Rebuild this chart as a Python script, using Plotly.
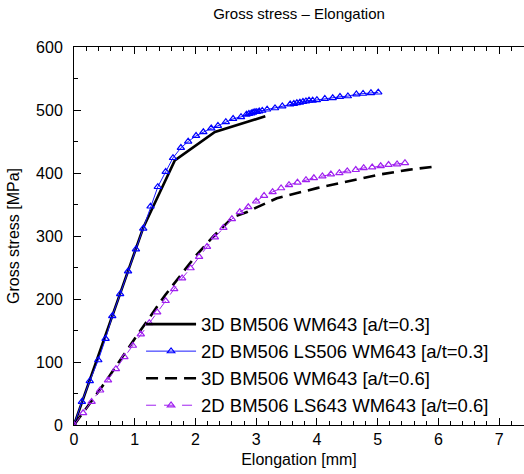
import plotly.graph_objects as go

# ---- data ----
x_3d_03 = [0, 1.14, 1.66, 2.32, 3.15]
y_3d_03 = [0, 313, 420, 465, 490]

x_2d_03 = [0, 0.13, 0.26, 0.40, 0.52, 0.63, 0.76, 0.89, 1.02, 1.14, 1.26, 1.38,
           1.51, 1.63, 1.76, 1.88, 2.01, 2.13, 2.26, 2.37, 2.50, 2.62, 2.75,
           2.84, 2.88, 2.92, 2.95, 2.98, 3.01, 3.05, 3.10, 3.18, 3.31, 3.43,
           3.56, 3.62, 3.67, 3.72, 3.77, 3.82, 3.87, 3.93, 4.00, 4.13, 4.26,
           4.38, 4.51, 4.65, 4.76, 4.89, 5.01]
y_2d_03 = [0, 37, 70, 103, 137, 173, 208, 244, 279, 312, 347, 378,
           402, 424, 440, 450, 459, 465, 471, 475, 481, 486, 489,
           493, 494, 495, 496, 497, 497, 498, 499, 501, 503, 506,
           509, 510, 511, 512, 513, 514, 515, 515, 516, 518, 519,
           521, 522, 525, 526, 527, 528]

x_3d_06 = [0, 0.5, 1.0, 1.5, 2.0, 2.3, 2.62, 2.85, 3.0, 3.34, 4.0, 4.5, 5.0, 5.5, 6.0]
y_3d_06 = [0, 66, 137, 206, 268, 300, 330, 338, 345, 360, 376, 386, 397, 405, 411]

x_2d_06 = [0, 0.15, 0.29, 0.43, 0.56, 0.69, 0.83, 0.97, 1.10, 1.24, 1.37, 1.51,
           1.65, 1.78, 1.92, 2.06, 2.19, 2.32, 2.46, 2.60, 2.73, 2.87, 3.00,
           3.13, 3.27, 3.41, 3.54, 3.68, 3.82, 3.95, 4.09, 4.23, 4.37, 4.50,
           4.64, 4.77, 4.91, 5.05, 5.18, 5.32, 5.45]
y_2d_06 = [0, 19, 37, 55, 71, 89, 108, 126, 144, 162, 179, 197,
           216, 233, 249, 267, 283, 298, 313, 327, 338, 346, 355,
           364, 370, 376, 381, 385, 389, 392, 395, 398, 400, 403,
           405, 408, 409, 411, 413, 414, 416]

names = ["3D BM506 WM643 [a/t=0.3]",
         "2D BM506 LS506 WM643 [a/t=0.3]",
         "3D BM506 WM643 [a/t=0.6]",
         "2D BM506 LS643 WM643 [a/t=0.6]"]

title_text = "Gross stress \u2013 Elongation"
x_title = "Elongation [mm]"
y_title = "Gross stress [MPa]"

FONT = "Liberation Sans, Arial, sans-serif"
PURPLE = "#a020f0"

fig = go.Figure()
fig.add_trace(go.Scatter(x=x_3d_03, y=y_3d_03, name=names[0], mode="lines",
                         line=dict(color="black", width=2.6)))
fig.add_trace(go.Scatter(x=x_2d_03, y=y_2d_03, name=names[1], mode="lines+markers",
                         line=dict(color="#1a1aff", width=1),
                         marker=dict(symbol="triangle-up-open", size=6.5,
                                     color="#0000ff", line=dict(width=1.2, color="#0000ff"))))
fig.add_trace(go.Scatter(x=x_3d_06, y=y_3d_06, name=names[2], mode="lines",
                         line=dict(color="black", width=2.6, dash="12px,7px")))
fig.add_trace(go.Scatter(x=x_2d_06, y=y_2d_06, name=names[3], mode="lines+markers",
                         line=dict(color=PURPLE, width=1, dash="10px,8px"),
                         marker=dict(symbol="triangle-up-open", size=6.5,
                                     color=PURPLE, line=dict(width=1.2, color=PURPLE))))

fig.update_layout(
    width=524, height=474,
    margin=dict(l=74, r=0, t=47, b=49),
    paper_bgcolor="white", plot_bgcolor="white",
    font=dict(family=FONT, size=16, color="black"),
    title=dict(text=title_text, x=0.5, xref="paper", y=0.972, yanchor="middle",
               font=dict(size=15, color="black")),
    showlegend=True,
    legend=dict(x=0.149, y=0.316, xanchor="left", yanchor="top",
                bgcolor="rgba(0,0,0,0)", borderwidth=0,
                font=dict(size=18.5, color="black"), itemwidth=50,
                tracegroupgap=0),
)
fig.update_xaxes(range=[0, 7.41], showgrid=False, zeroline=False,
                 showline=True, linecolor="black", linewidth=1, mirror="ticks",
                 ticks="inside", ticklen=7, tickcolor="black", tickwidth=1,
                 dtick=1, tick0=0,
                 minor=dict(ticks="inside", ticklen=4, dtick=0.2, tickcolor="black", showgrid=False),
                 tickfont=dict(size=16),
                 title=dict(text=x_title, font=dict(size=16), standoff=6))
fig.update_yaxes(range=[0, 600], showgrid=False, zeroline=False,
                 showline=True, linecolor="black", linewidth=1, mirror=False,
                 ticks="inside", ticklen=7, tickcolor="black", tickwidth=1,
                 dtick=100, tick0=0, ticklabelstandoff=7,
                 minor=dict(ticks="inside", ticklen=4, dtick=50, tickcolor="black", showgrid=False),
                 tickfont=dict(size=16),
                 title=dict(text=y_title, font=dict(size=16), standoff=12))

fig.write_html("out.html", config={"displayModeBar": False},
               post_script="document.body.style.margin='0';")
